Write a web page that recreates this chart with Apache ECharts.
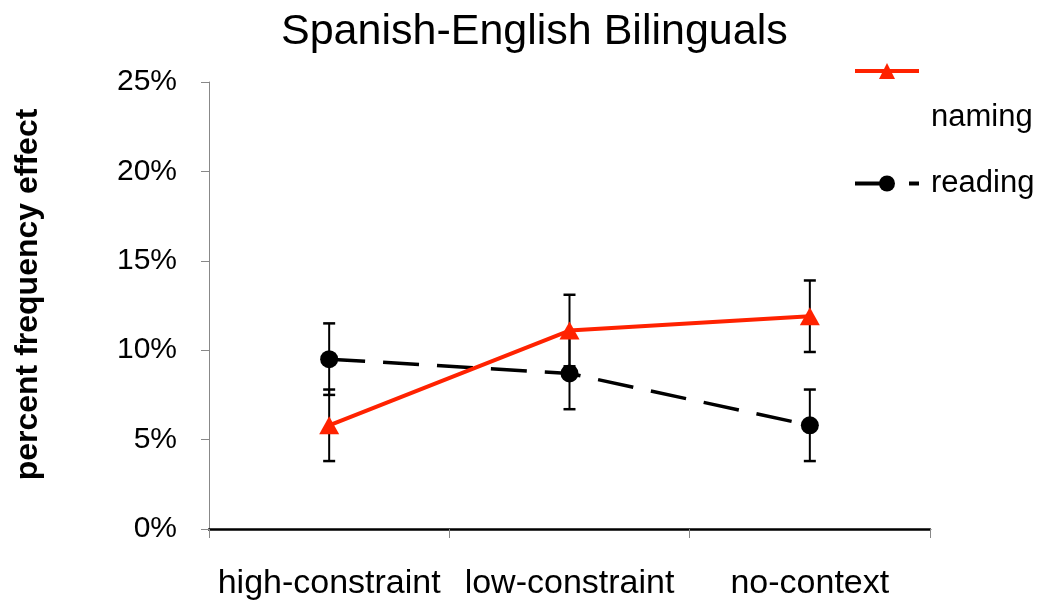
<!DOCTYPE html>
<html>
<head>
<meta charset="utf-8">
<script src="https://cdn.jsdelivr.net/npm/echarts@6/dist/echarts.min.js"></script>
<style>html,body{margin:0;padding:0;background:#fff}#c{width:1043px;height:603px}</style>
</head>
<body>
<div id="c"></div>
<script>
const categories = ['high-constraint', 'low-constraint', 'no-context'];
const namingValues = [5.8, 11.1, 11.9];
const namingErrors = [2.0, 2.0, 2.0];
const readingValues = [9.5, 8.7, 5.8];
const readingErrors = [2.0, 2.0, 2.0];
const yTicks = [0, 5, 10, 15, 20, 25];

const FONT = 'Liberation Sans, Arial, sans-serif';
const RED = '#ff2200';

function errData(vals, errs) {
  return vals.map((v, i) => [i, v - errs[i], v + errs[i]]);
}
function renderErr(params, api) {
  const x = api.value(0);
  const lo = api.coord([x, api.value(1)]);
  const hi = api.coord([x, api.value(2)]);
  const w = 6;
  const st = { stroke: '#000', lineWidth: 2 };
  const cap = { stroke: '#000', lineWidth: 2.5 };
  return {
    type: 'group',
    children: [
      { type: 'line', shape: { x1: lo[0], y1: lo[1], x2: hi[0], y2: hi[1] }, style: st },
      { type: 'line', shape: { x1: lo[0] - w, y1: lo[1], x2: lo[0] + w, y2: lo[1] }, style: cap },
      { type: 'line', shape: { x1: hi[0] - w, y1: hi[1], x2: hi[0] + w, y2: hi[1] }, style: cap }
    ]
  };
}

const chart = echarts.init(document.getElementById('c'));
chart.setOption({
  animation: false,
  backgroundColor: '#fff',
  title: {
    text: 'Spanish-English Bilinguals',
    left: 281, top: 11, padding: 0,
    textStyle: { fontFamily: FONT, fontSize: 43, fontWeight: 'normal', color: '#000' }
  },
  legend: [
    {
      data: [{ name: 'naming' }],
      left: 853, top: 2, orient: 'vertical',
      itemWidth: 64, itemHeight: 20, padding: 0,
      formatter: '\n\n{name}',
      lineStyle: { width: 4 },
      textStyle: { fontFamily: FONT, fontSize: 31, color: '#000', lineHeight: 46, padding: [0, 0, 0, 7] }
    },
    {
      data: [{ name: 'reading' }],
      left: 853, top: 168, orient: 'vertical',
      itemWidth: 64, itemHeight: 20, padding: 0,
      lineStyle: { width: 4 },
      textStyle: { fontFamily: FONT, fontSize: 31, color: '#000', padding: [16, 0, 0, 7] }
    }
  ],
  grid: { left: 209, right: 113, top: 82, bottom: 74, containLabel: false, outerBoundsMode: 'none' },
  xAxis: {
    type: 'category',
    data: categories,
    boundaryGap: true,
    axisLine: { lineStyle: { color: '#000', width: 2.5 } },
    axisTick: { show: true, length: 9, lineStyle: { color: '#888', width: 1 } },
    axisLabel: { interval: 0, margin: 38, fontFamily: FONT, fontSize: 34, color: '#000' },
    splitLine: { show: false }
  },
  yAxis: {
    type: 'value',
    min: yTicks[0], max: yTicks[yTicks.length - 1], interval: 5,
    name: 'percent frequency effect',
    nameLocation: 'middle', nameRotate: 90, nameGap: 165,
    nameTextStyle: { fontFamily: FONT, fontSize: 32, fontWeight: 'bold', color: '#000', padding: [0, 0, 0, 22] },
    axisLine: { show: true, lineStyle: { color: '#888', width: 1 } },
    axisTick: { show: true, length: 8, lineStyle: { color: '#888', width: 1 } },
    axisLabel: { margin: 32, fontFamily: FONT, fontSize: 30, color: '#000', formatter: '{value}%' },
    splitLine: { show: false }
  },
  series: [
    {
      type: 'custom', name: 'naming-err', renderItem: renderErr,
      data: errData(namingValues, namingErrors), z: 1, silent: true
    },
    {
      type: 'custom', name: 'reading-err', renderItem: renderErr,
      data: errData(readingValues, readingErrors), z: 1, silent: true
    },
    {
      name: 'naming', type: 'line', data: namingValues, z: 3,
      symbol: 'triangle', symbolSize: [20, 18],
      lineStyle: { color: RED, width: 4 },
      itemStyle: { color: RED }
    },
    {
      name: 'reading', type: 'line', data: readingValues, z: 2,
      symbol: 'circle', symbolSize: 18,
      lineStyle: { color: '#000', width: 3.5, type: [36, 18] },
      itemStyle: { color: '#000' }
    }
  ]
});
</script>
</body>
</html>
